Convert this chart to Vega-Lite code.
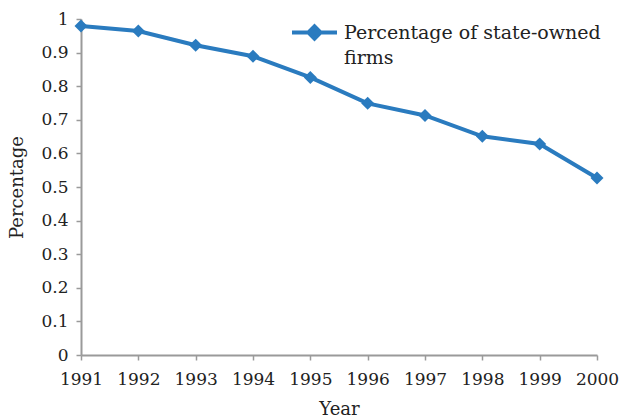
{
  "$schema": "https://vega.github.io/schema/vega-lite/v6.json",
  "autosize": "none",
  "width": 516,
  "height": 336,
  "padding": {"left": 81, "top": 19, "right": 24, "bottom": 62},
  "background": "white",
  "config": {
    "view": {"stroke": null},
    "font": "DejaVu Serif",
    "style": {"guide-label": {"lineHeight": 25}},
    "axis": {
      "labelFont": "DejaVu Serif",
      "titleFont": "DejaVu Serif",
      "labelFontSize": 17,
      "titleFontSize": 18,
      "labelColor": "#222",
      "titleColor": "#222",
      "titleFontWeight": "normal",
      "domainColor": "#9a9a9a",
      "domainWidth": 2,
      "tickColor": "#9a9a9a",
      "tickWidth": 1.5,
      "tickSize": 5,
      "grid": false
    }
  },
  "data": {
    "values": [
      {"year": 1991, "value": 0.979, "series": "Percentage of state-owned firms"},
      {"year": 1992, "value": 0.964, "series": "Percentage of state-owned firms"},
      {"year": 1993, "value": 0.922, "series": "Percentage of state-owned firms"},
      {"year": 1994, "value": 0.889, "series": "Percentage of state-owned firms"},
      {"year": 1995, "value": 0.826, "series": "Percentage of state-owned firms"},
      {"year": 1996, "value": 0.749, "series": "Percentage of state-owned firms"},
      {"year": 1997, "value": 0.713, "series": "Percentage of state-owned firms"},
      {"year": 1998, "value": 0.651, "series": "Percentage of state-owned firms"},
      {"year": 1999, "value": 0.628, "series": "Percentage of state-owned firms"},
      {"year": 2000, "value": 0.527, "series": "Percentage of state-owned firms"}
    ]
  },
  "encoding": {
    "x": {
      "field": "year",
      "type": "quantitative",
      "scale": {"domain": [1991, 2000], "nice": false, "zero": false},
      "axis": {
        "title": "Year",
        "values": [1991, 1992, 1993, 1994, 1995, 1996, 1997, 1998, 1999, 2000],
        "format": "d",
        "labelPadding": 11,
        "titlePadding": 13,
        "labelFlush": false,
        "labelOverlap": false
      }
    },
    "y": {
      "field": "value",
      "type": "quantitative",
      "scale": {"domain": [0, 1], "nice": false},
      "axis": {
        "title": "Percentage",
        "values": [0, 0.1, 0.2, 0.3, 0.4, 0.5, 0.6, 0.7, 0.8, 0.9, 1],
        "format": ".1~f",
        "labelPadding": 8,
        "titlePadding": 14,
        "labelFlush": false,
        "labelOverlap": false
      }
    },
    "color": {
      "field": "series",
      "type": "nominal",
      "scale": {"range": ["#2a7bbf"]},
      "legend": {
        "title": null,
        "orient": "none",
        "legendX": 209,
        "legendY": -20,
        "symbolType": "M-1,0.4H1M-0.27,0.4L0,0.13L0.27,0.4L0,0.67Z",
        "symbolSize": 2025,
        "symbolStrokeWidth": 4,
        "symbolFillColor": "#2a7bbf",
        "symbolStrokeColor": "#2a7bbf",
        "labelFont": "DejaVu Serif",
        "labelFontSize": 19,
        "labelColor": "#222",
        "labelLimit": 400,
        "labelOffset": 5,
        "labelBaseline": "top",
        "labelExpr": "['Percentage of state-owned', 'firms']"
      }
    }
  },
  "layer": [
    {"mark": {"type": "line", "strokeWidth": 4}},
    {"mark": {"type": "point", "shape": "diamond", "filled": true, "size": 170, "opacity": 1}}
  ]
}
